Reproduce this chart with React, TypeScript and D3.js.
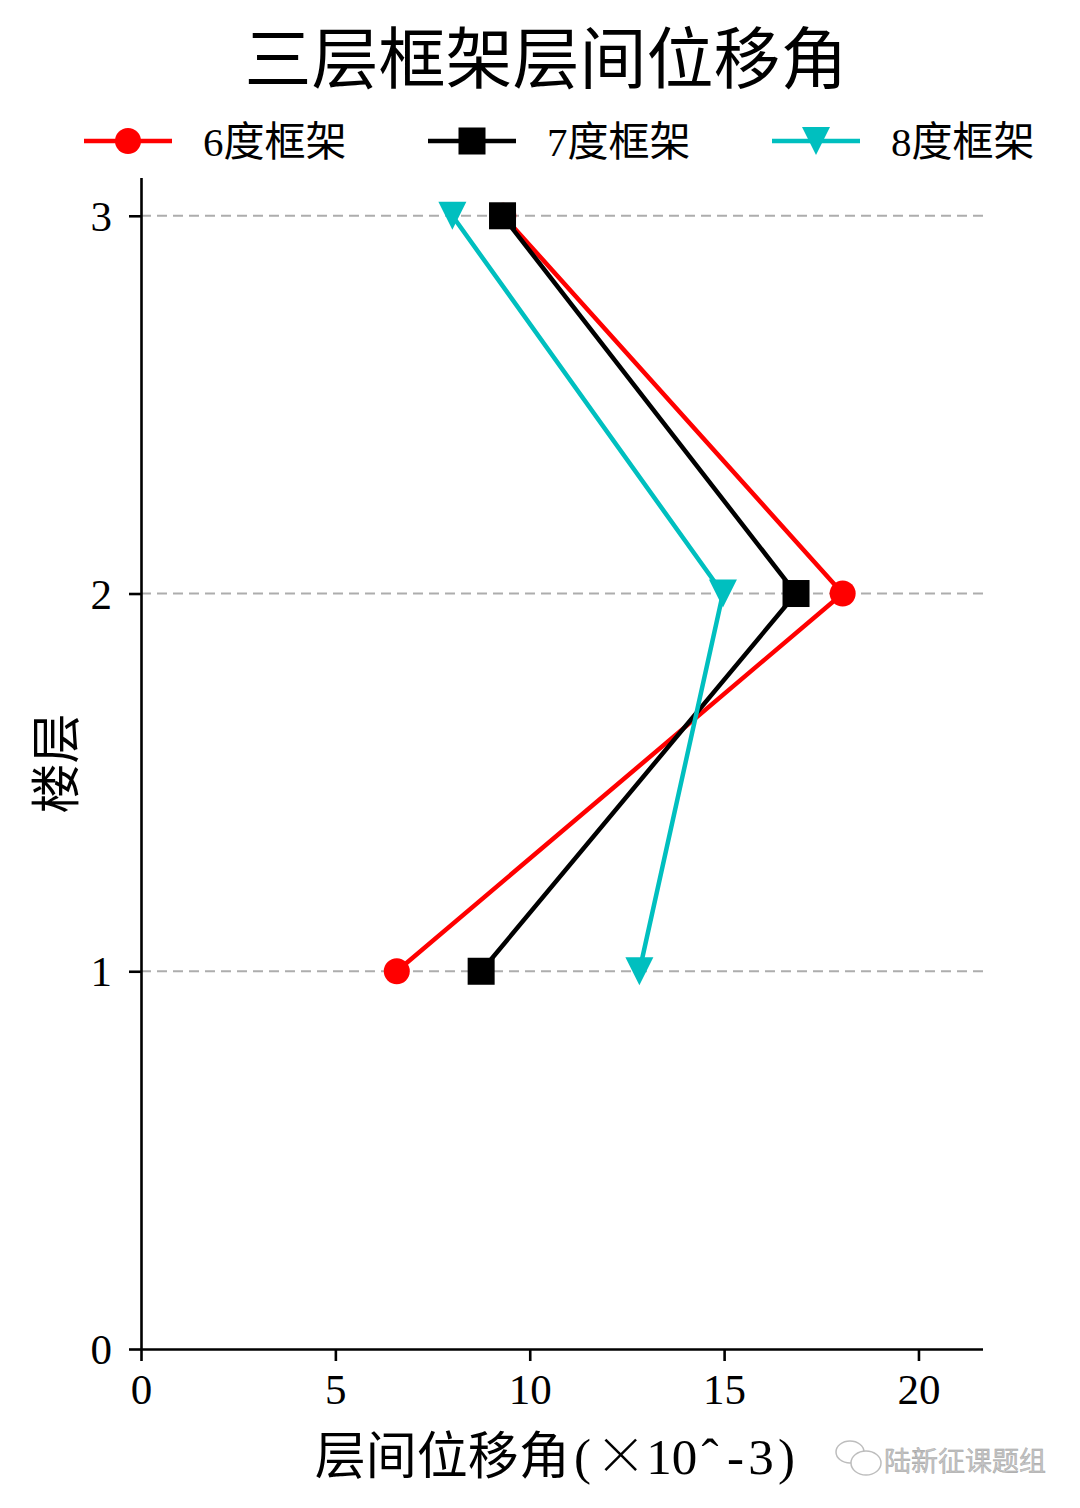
import { useEffect, useRef } from 'react';
import * as d3 from 'd3';

// floors and inter-storey drift angle (x10^-3)
const floors = [1, 2, 3];
const drift6 = [6.58, 18.05, 9.32];
const drift7 = [8.75, 16.85, 9.3];
const drift8 = [12.82, 14.97, 8.01];

const xTicks = [0, 5, 10, 15, 20];
const yTicks = [0, 1, 2, 3];
const xMax = 21.66;
const yMax = 3.1;

const seriesNames = ['6度框架', '7度框架', '8度框架'];
const seriesColors = ['#ff0000', '#000000', '#00bfbf'];
const seriesMarkers = ['circle', 'square', 'triangle'];

const title = '三层框架层间位移角';
const xLabel = '层间位移角(×10ˆ-3)';
const yLabel = '楼层';
const watermark = '陆新征课题组';

const W = 1080;
const H = 1508;
const FONT = "'Liberation Serif', 'Times New Roman', 'Noto Sans CJK SC', serif";
const CJK = "'Noto Sans CJK SC', 'Liberation Serif', serif";

const isWide = (ch: string) => /[\u2E80-\uFFFF×]/.test(ch);

export default function App() {
  const svgRef = useRef<SVGSVGElement>(null);

  useEffect(() => {
    if (!svgRef.current) return;
    const svg = d3.select(svgRef.current);
    svg.selectAll('*').remove();

    const margin = { top: 178, right: 97, bottom: 159, left: 141 };
    const innerW = W - margin.left - margin.right;
    const innerH = H - margin.top - margin.bottom;

    const x = d3.scaleLinear().domain([0, xMax]).range([0, innerW]);
    const y = d3.scaleLinear().domain([0, yMax]).range([innerH, 0]);

    svg.append('rect').attr('width', W).attr('height', H).attr('fill', '#fff');

    const g = svg.append('g').attr('transform', `translate(${margin.left},${margin.top})`);

    // dashed grid at each floor
    g.append('g')
      .selectAll('line')
      .data(floors)
      .join('line')
      .attr('x1', 0)
      .attr('x2', innerW)
      .attr('y1', (d) => y(d))
      .attr('y2', (d) => y(d))
      .attr('stroke', '#adadad')
      .attr('stroke-width', 2.2)
      .attr('stroke-dasharray', '10,6');

    // axes
    const xAxis = g
      .append('g')
      .attr('transform', `translate(0,${innerH})`)
      .call(d3.axisBottom(x).tickValues(xTicks).tickSize(12).tickPadding(11).tickFormat(d3.format('d')));
    const yAxis = g
      .append('g')
      .call(d3.axisLeft(y).tickValues(yTicks).tickSize(12).tickPadding(17).tickFormat(d3.format('d')));

    [xAxis, yAxis].forEach((ax) => {
      ax.select('.domain').attr('stroke', '#000').attr('stroke-width', 2.6);
      ax.selectAll('.tick line').attr('stroke', '#000').attr('stroke-width', 2.6);
      ax.selectAll('.tick text')
        .attr('fill', '#000')
        .attr('font-family', FONT)
        .attr('font-size', 43);
    });
    xAxis.select('.domain').attr('d', `M0,0.5H${innerW}`);
    yAxis.select('.domain').attr('d', `M0.5,${innerH}V0`);
    xAxis.selectAll('.tick text').attr('dy', '0.75em');
    yAxis.selectAll('.tick text').attr('dy', '0.34em');

    const allSeries = [drift6, drift7, drift8];

    const line = d3
      .line<[number, number]>()
      .x((d) => x(d[0]))
      .y((d) => y(d[1]));

    const drawMarker = (
      sel: d3.Selection<SVGGElement, unknown, null, undefined>,
      kind: string,
      cx: number,
      cy: number,
      color: string
    ) => {
      if (kind === 'circle') {
        sel.append('circle').attr('cx', cx).attr('cy', cy).attr('r', 13).attr('fill', color);
      } else if (kind === 'square') {
        sel.append('rect')
          .attr('x', cx - 13.5)
          .attr('y', cy - 13.5)
          .attr('width', 27)
          .attr('height', 27)
          .attr('fill', color);
      } else {
        sel.append('path')
          .attr('d', `M${cx - 14},${cy - 14}L${cx + 14},${cy - 14}L${cx},${cy + 14}Z`)
          .attr('fill', color);
      }
    };

    allSeries.forEach((vals, i) => {
      const pts: [number, number][] = vals.map((v, k) => [v, floors[k]]);
      const sg = g.append('g');
      sg.append('path')
        .datum(pts)
        .attr('fill', 'none')
        .attr('stroke', seriesColors[i])
        .attr('stroke-width', 4.5)
        .attr('stroke-linejoin', 'round')
        .attr('d', line);
      pts.forEach(([px, py]) => drawMarker(sg, seriesMarkers[i], x(px), y(py), seriesColors[i]));
    });

    // legend
    const legendX = [84, 428, 772];
    const lg = svg.append('g').attr('transform', 'translate(0,141)');
    seriesNames.forEach((name, i) => {
      const item = lg.append('g').attr('transform', `translate(${legendX[i]},0)`);
      item.append('line')
        .attr('x1', 0)
        .attr('x2', 88)
        .attr('stroke', seriesColors[i])
        .attr('stroke-width', 4.5);
      drawMarker(item, seriesMarkers[i], 44, 0, seriesColors[i]);
      item.append('text')
        .attr('x', 119)
        .attr('y', 0)
        .attr('dy', '0.36em')
        .attr('font-family', FONT)
        .attr('font-size', 41)
        .attr('fill', '#000')
        .text(name);
    });

    // title
    svg.append('text')
      .attr('x', 546)
      .attr('y', 83)
      .attr('text-anchor', 'middle')
      .attr('font-family', CJK)
      .attr('font-size', 67)
      .attr('fill', '#000')
      .text(title);

    // x label, laid out on a full/half-width grid like the original font
    const fs = 51;
    const chars = Array.from(xLabel);
    const widths = chars.map((c) => (isWide(c) ? fs : fs / 2));
    const total = d3.sum(widths);
    const labelCx = 557;
    let cursor = labelCx - total / 2;
    const xl = svg.append('text')
      .attr('y', 1474)
      .attr('font-size', fs)
      .attr('fill', '#000')
      .attr('text-anchor', 'middle');
    chars.forEach((c, k) => {
      xl.append('tspan')
        .attr('x', cursor + widths[k] / 2)
        .attr('font-family', isWide(c) && c !== 'ˆ' ? CJK : FONT)
        .attr('font-weight', c === '×' ? 300 : null)
        .text(c);
      cursor += widths[k];
    });

    svg.append('text')
      .attr('transform', `translate(74,${margin.top + innerH / 2}) rotate(-90)`)
      .attr('text-anchor', 'middle')
      .attr('font-family', CJK)
      .attr('font-size', 50)
      .attr('fill', '#000')
      .text(yLabel);

    // watermark
    const wm = svg.append('g').attr('fill', 'none').attr('stroke', '#bdbdbd').attr('stroke-width', 1.5);
    wm.append('ellipse').attr('cx', 850).attr('cy', 1452).attr('rx', 14).attr('ry', 11).attr('fill', '#fff');
    wm.append('ellipse').attr('cx', 866).attr('cy', 1463).attr('rx', 15).attr('ry', 12).attr('fill', '#fff');
    svg.append('text')
      .attr('x', 884)
      .attr('y', 1471)
      .attr('font-family', CJK)
      .attr('font-size', 27)
      .attr('fill', '#c4c4c4')
      .attr('stroke', '#9a9a9a')
      .attr('stroke-width', 0.4)
      .text(watermark);
  }, []);

  return (
    <div style={{ width: W, height: H, margin: -8 }}>
      <svg ref={svgRef} width={W} height={H} style={{ display: 'block' }} />
    </div>
  );
}
